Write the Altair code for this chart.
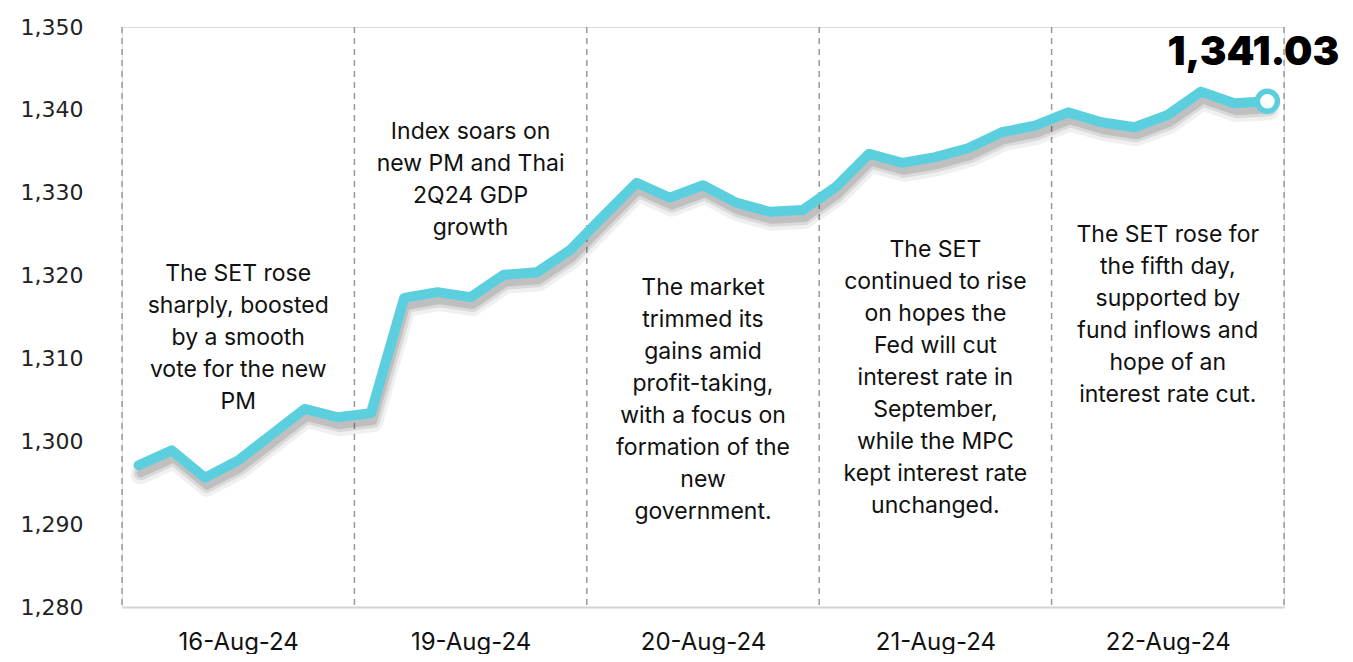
import altair as alt
import pandas as pd

days = ["16-Aug-24", "19-Aug-24", "20-Aug-24", "21-Aug-24", "22-Aug-24"]
day1 = [1297.1, 1298.9, 1295.6, 1297.7, 1300.8, 1303.9, 1302.9]
day2 = [1303.4, 1317.3, 1318.0, 1317.4, 1320.1, 1320.4, 1323.1]
day3 = [1327.2, 1331.2, 1329.4, 1330.9, 1328.8, 1327.7, 1327.9]
day4 = [1330.7, 1334.7, 1333.6, 1334.3, 1335.4, 1337.3, 1338.1]
day5 = [1339.7, 1338.5, 1337.9, 1339.4, 1342.2, 1340.8, 1341.03]
notes = [
    "The SET rose\nsharply, boosted\nby a smooth\nvote for the new\nPM",
    "Index soars on\nnew PM and Thai\n2Q24 GDP\ngrowth",
    "The market\ntrimmed its\ngains amid\nprofit-taking,\nwith a focus on\nformation of the\nnew\ngovernment.",
    "The SET\ncontinued to rise\non hopes the\nFed will cut\ninterest rate in\nSeptember,\nwhile the MPC\nkept interest rate\nunchanged.",
    "The SET rose for\nthe fifth day,\nsupported by\nfund inflows and\nhope of an\ninterest rate cut.",
]
note_y = [1321.5, 1338.6, 1319.8, 1324.4, 1326.2]
y_ticks = [1280, 1290, 1300, 1310, 1320, 1330, 1340, 1350]

series = [day1, day2, day3, day4, day5]
n = len(day1)
rows = []
for d, vals in enumerate(series):
    for j, v in enumerate(vals):
        rows.append({"i": d * n + j, "day": days[d], "v": v})
df = pd.DataFrame(rows)
last = df.tail(1).copy()
last["label"] = "{:,.2f}".format(day5[-1])

bounds = pd.DataFrame({"b": [d * n - 0.5 for d in range(len(days) + 1)],
                       "y1": [y_ticks[-1]] * (len(days) + 1),
                       "y2": [y_ticks[0]] * (len(days) + 1)})
notes_df = pd.DataFrame({"c": [d * n + (n - 1) / 2 for d in range(len(days))],
                         "t": notes, "y": note_y})

FONT = "Inter"
xs = alt.Scale(domain=[-0.5, len(days) * n - 0.5], nice=False, zero=False)
ys = alt.Scale(domain=[y_ticks[0], y_ticks[-1]], nice=False, zero=False)
centers = [d * n + (n - 1) // 2 for d in range(len(days))]
label_arr = "[" + ",".join("'%s'" % s for s in days) + "]"

x_enc = alt.X("i:Q", scale=xs, title=None,
              axis=alt.Axis(values=centers, labelExpr=label_arr + "[floor(datum.value/%d)]" % n,
                            ticks=False, grid=False, domainColor="#d4d4d4", domainWidth=2,
                            labelFont=FONT, labelFontSize=24, labelColor="#111",
                            labelPadding=23))
y_enc = alt.Y("v:Q", scale=ys, title=None,
              axis=alt.Axis(values=y_ticks, format=",d", ticks=False, grid=False, domain=False,
                            labelFont="DejaVu Sans", labelFontSize=22, labelColor="#222",
                            labelPadding=39))

rules = alt.Chart(bounds).mark_rule(color="#9a9a9a", strokeDash=[6, 5], strokeWidth=1.5).encode(
    x=alt.X("b:Q", scale=xs), y=alt.Y("y1:Q", scale=ys), y2="y2:Q")

shadows = [
    alt.Chart(df).mark_line(color="#000", opacity=op, strokeWidth=sw, yOffset=yo, xOffset=2,
                            strokeJoin="round", strokeCap="round").encode(x=x_enc, y=y_enc)
    for op, sw, yo in [(0.06, 20, 9), (0.09, 14, 8), (0.12, 8, 8)]
]

line = alt.Chart(df).mark_line(color="#5CCFDF", strokeWidth=10, strokeJoin="round",
                               strokeCap="round").encode(x=x_enc, y=y_enc)

pt = alt.Chart(last).mark_point(shape="circle", filled=True, fill="white", stroke="#5CCFDF",
                                strokeWidth=5.5, size=400, opacity=1).encode(x=x_enc, y=y_enc)

lbl = alt.Chart(last).mark_text(font=FONT, fontSize=40, fontWeight=900, color="#000",
                                dx=-14, dy=-48, align="center", baseline="middle").encode(
    x=x_enc, y=y_enc, text="label:N")

note_txt = alt.Chart(notes_df).mark_text(font=FONT, fontSize=23, color="#111", align="center",
                                         baseline="top", lineBreak="\n", lineHeight=32).encode(
    x=alt.X("c:Q", scale=xs), y=alt.Y("y:Q", scale=ys), text="t:N")

chart = alt.layer(rules, note_txt, *shadows, line, pt, lbl).properties(
    width=1162, height=580,
    autosize=alt.AutoSizeParams(type="none"),
    padding={"left": 114, "top": 19, "right": 61, "bottom": 47},
).configure_view(stroke=None).configure(background="white")

chart.save("out.html", embed_options={"renderer": "svg", "actions": False})
